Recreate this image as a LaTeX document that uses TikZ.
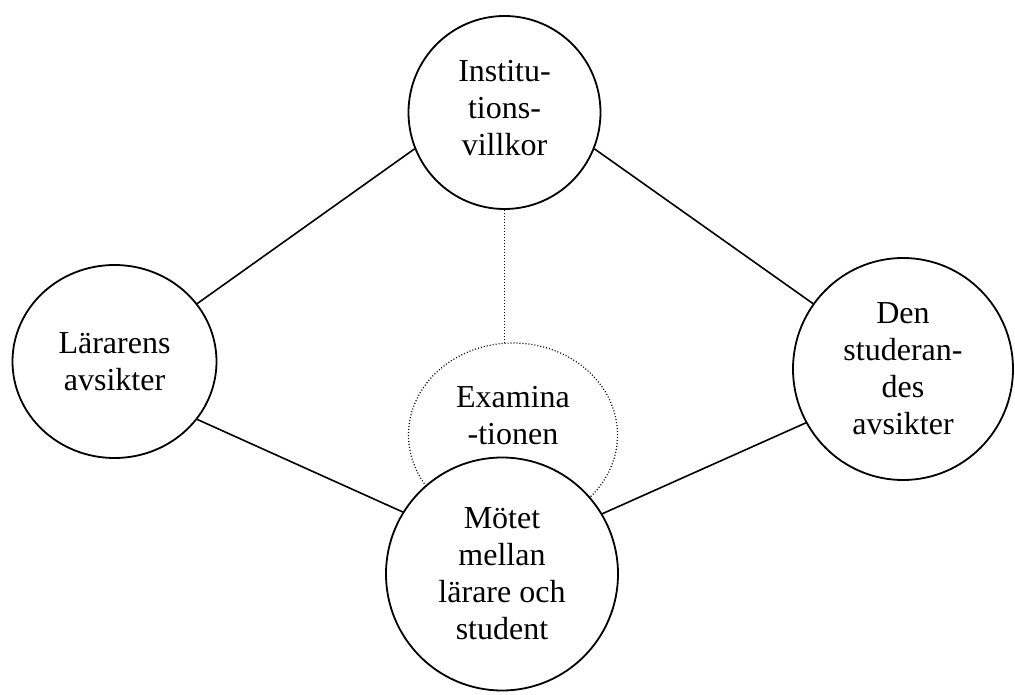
\documentclass[tikz,border=0pt]{standalone}
\usepackage{fontspec}
\setmainfont{Liberation Serif}
\usetikzlibrary{shapes.geometric}
\begin{document}
\begin{tikzpicture}[x=1pt,y=-1pt,
  bubble/.style={draw=black,line width=1.8pt,ellipse,inner sep=0pt,align=center,fill=white,
    font=\fontsize{32}{37}\selectfont},
  link/.style={draw=black,line width=1.6pt},
  dotlink/.style={draw=black,line width=1.2pt,dash pattern=on 1pt off 2pt}]
\useasboundingbox (0,0) rectangle (1015,695);
\node[bubble,dotlink,fill=none,minimum width=209pt,minimum height=184pt,text depth=40pt] (exam) at (513,435) {Examina\\-tionen};
\node[bubble,minimum width=192pt,minimum height=193pt,text depth=10pt] (inst) at (504.5,112.5) {Institu-\\tions-\\villkor};
\node[bubble,minimum width=204pt,minimum height=193pt] (lar) at (114.5,361.5) {Lärarens\\avsikter};
\node[bubble,minimum width=220pt,minimum height=222pt] (stud) at (903,369) {Den\\studeran-\\des\\avsikter};
\node[bubble,minimum width=232pt,minimum height=233pt] (mote) at (502,574) {Mötet\\mellan\\lärare och\\student};
\draw[link] (lar.35) -- (inst.202);
\draw[link] (inst.338) -- (stud.144);
\draw[link] (lar.325) -- (mote.148);
\draw[link] (stud.209) -- (mote.31);
\draw[dotlink] (inst.south) -- (inst.south |- exam.north);
\end{tikzpicture}
\end{document}
